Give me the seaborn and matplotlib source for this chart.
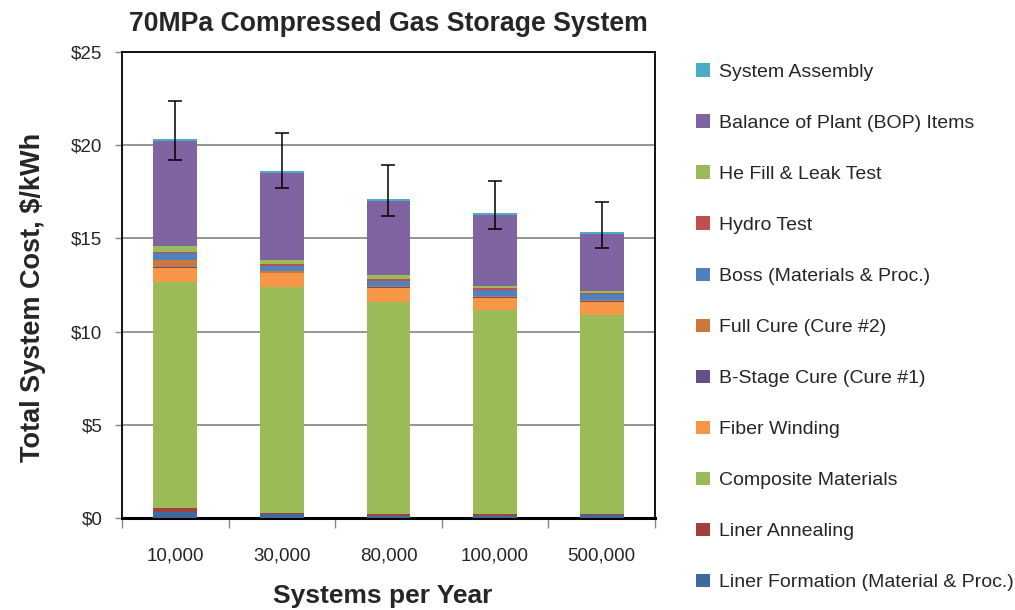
import numpy as np
import matplotlib.pyplot as plt
from matplotlib.patches import Patch
import seaborn as sns

# --- DATA ---
years = ["10,000", "30,000", "80,000", "100,000", "500,000"]

# stack order, bottom -> top
components = [
    "Liner Formation (Material & Proc.)",
    "Liner Annealing",
    "Composite Materials",
    "Fiber Winding",
    "B-Stage Cure (Cure #1)",
    "Full Cure (Cure #2)",
    "Boss (Materials & Proc.)",
    "Hydro Test",
    "He Fill & Leak Test",
    "Balance of Plant (BOP) Items",
    "System Assembly",
]

liner_formation = [0.34, 0.23, 0.12, 0.12, 0.17]
liner_annealing = [0.21, 0.05, 0.10, 0.10, 0.05]
composite = [12.12, 12.11, 11.36, 10.93, 10.68]
fiber_winding = [0.75, 0.73, 0.78, 0.67, 0.70]
b_stage_cure = [0.05, 0.05, 0.03, 0.05, 0.03]
full_cure = [0.36, 0.07, 0.05, 0.05, 0.05]
boss = [0.38, 0.30, 0.30, 0.32, 0.32]
hydro_test = [0.05, 0.07, 0.07, 0.09, 0.09]
he_fill = [0.32, 0.25, 0.20, 0.11, 0.11]
bop = [5.63, 4.67, 4.02, 3.81, 3.06]
system_assembly = [0.10, 0.10, 0.10, 0.10, 0.10]

err_high = [22.35, 20.64, 18.94, 18.10, 16.97]
err_low = [19.20, 17.69, 16.20, 15.49, 14.50]

colors = [
    "#3F6AA0", "#A0413E", "#9BBB59", "#F79646", "#654F8A", "#C9793B",
    "#4F81BD", "#C0504D", "#9BBB59", "#8064A2", "#4BACC6",
]

layers = [liner_formation, liner_annealing, composite, fiber_winding,
          b_stage_cure, full_cure, boss, hydro_test, he_fill, bop,
          system_assembly]

# --- STYLE ---
sns.set_theme(style="white")
plt.rcParams['font.family'] = ['Liberation Sans', 'DejaVu Sans']

fig = plt.figure(figsize=(10.15, 6.10), dpi=100)
ax = fig.add_axes([0.1202, 0.1508, 0.5251, 0.7640])

# cumulative totals, drawn top layer first so lower layers cover them
cum = np.cumsum(np.array(layers), axis=0)
for i in range(len(layers) - 1, -1, -1):
    sns.barplot(x=years, y=cum[i], color=colors[i], saturation=1,
                width=0.41, errorbar=None, ax=ax, zorder=3,
                linewidth=0, order=years)

totals = cum[-1]
x = np.arange(len(years))
yerr = [totals - np.array(err_low), np.array(err_high) - totals]
ax.errorbar(x, totals, yerr=yerr, fmt="none", ecolor="black",
            elinewidth=1.1, capsize=5, capthick=1.1, zorder=5)

# --- AXES ---
ax.set_xlim(-0.5, 4.5)
ax.set_ylim(0, 25)
ax.set_yticks(np.arange(0, 26, 5))
ax.set_yticklabels([f"${v}" for v in range(0, 26, 5)], fontsize=13.5)
ax.set_xticks(x)
ax.set_xticklabels(years, fontsize=13.5)
ax.set_xticks(np.arange(-0.5, 4.6, 1), minor=True)
ax.tick_params(axis="x", which="major", length=0, pad=21)
ax.tick_params(axis="x", which="minor", length=7, width=1, color="#888888",
               direction="out", bottom=True)
ax.tick_params(axis="y", length=5, width=1, color="#888888", left=True,
               direction="out", pad=9)
ax.yaxis.grid(True, color="#8c8c8c", linewidth=1.3, zorder=0)
ax.set_axisbelow(True)
for side in ["top", "left", "right"]:
    ax.spines[side].set_color("black")
    ax.spines[side].set_linewidth(1.3)
ax.spines["bottom"].set_color("black")
ax.spines["bottom"].set_linewidth(2.2)

ax.set_xlabel("Systems per Year", fontsize=19, fontweight="bold",
              labelpad=14, x=0.49)
ax.set_ylabel("Total System Cost, $/kWh", fontsize=19.5, fontweight="bold",
              labelpad=18, y=0.474)
ax.set_title("70MPa Compressed Gas Storage System", fontsize=19.2,
             fontweight="bold", pad=15)

# --- LEGEND ---
handles = [Patch(facecolor=colors[i], edgecolor="none")
           for i in range(len(components) - 1, -1, -1)]
labels = components[::-1]
fig.legend(handles, labels, loc="upper left",
           bbox_to_anchor=(0.678, 0.909), frameon=False, fontsize=14,
           handlelength=0.7, handleheight=0.7, handletextpad=0.5,
           labelspacing=1.72, borderaxespad=0)

fig.savefig("out.png", dpi=100)
